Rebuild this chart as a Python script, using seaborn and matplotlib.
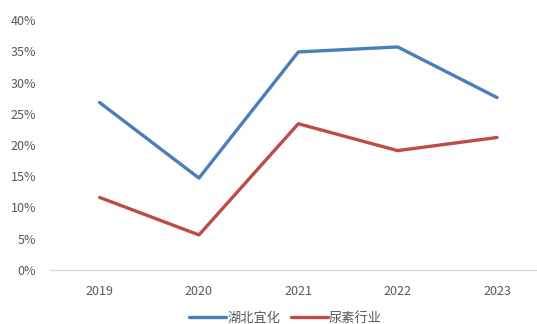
import matplotlib
matplotlib.use("Agg")
import matplotlib.pyplot as plt
import seaborn as sns
import pandas as pd
from matplotlib.ticker import FuncFormatter

years = ["2019", "2020", "2021", "2022", "2023"]
hubei = [26.8, 14.7, 34.9, 35.7, 27.6]
urea = [11.6, 5.6, 23.4, 19.1, 21.2]
series_names = ["湖北宜化", "尿素行业"]
yticks = [0, 5, 10, 15, 20, 25, 30, 35, 40]

df = pd.DataFrame({
    "year": years * 2,
    "value": hubei + urea,
    "series": [series_names[0]] * len(years) + [series_names[1]] * len(years),
})

sns.set_theme(style="white")
plt.rcParams['font.family'] = ['Noto Sans CJK SC', 'DejaVu Sans']

fig = plt.figure(figsize=(5.37, 3.24), dpi=100)
ax = fig.add_axes([0.093, 0.167, 0.925, 0.771])

sns.lineplot(data=df, x="year", y="value", hue="series", sort=False,
             palette=["#4a7ebb", "#be4b48"], linewidth=2.4, ax=ax)

ax.set_ylim(0, 40)
ax.set_xlim(-0.5, 4.5)
ax.set_yticks(yticks)
ax.yaxis.set_major_formatter(FuncFormatter(lambda v, p: f"{int(v)}%"))
ax.set_xlabel("")
ax.set_ylabel("")
for s in ["top", "right", "left"]:
    ax.spines[s].set_visible(False)
ax.spines["bottom"].set_color("#d9d9d9")
ax.spines["bottom"].set_linewidth(1.0)
ax.tick_params(axis="both", length=0, colors="#595959", labelsize=9)
ax.tick_params(axis="y", pad=10)
ax.tick_params(axis="x", pad=11)

ax.legend(loc="center", bbox_to_anchor=(0.474, -0.195), ncol=2, frameon=False,
          fontsize=9.5, labelcolor="#595959", handlelength=2.8, columnspacing=0.8,
          handletextpad=0.1, borderpad=0)

fig.savefig("out.png", dpi=100)
